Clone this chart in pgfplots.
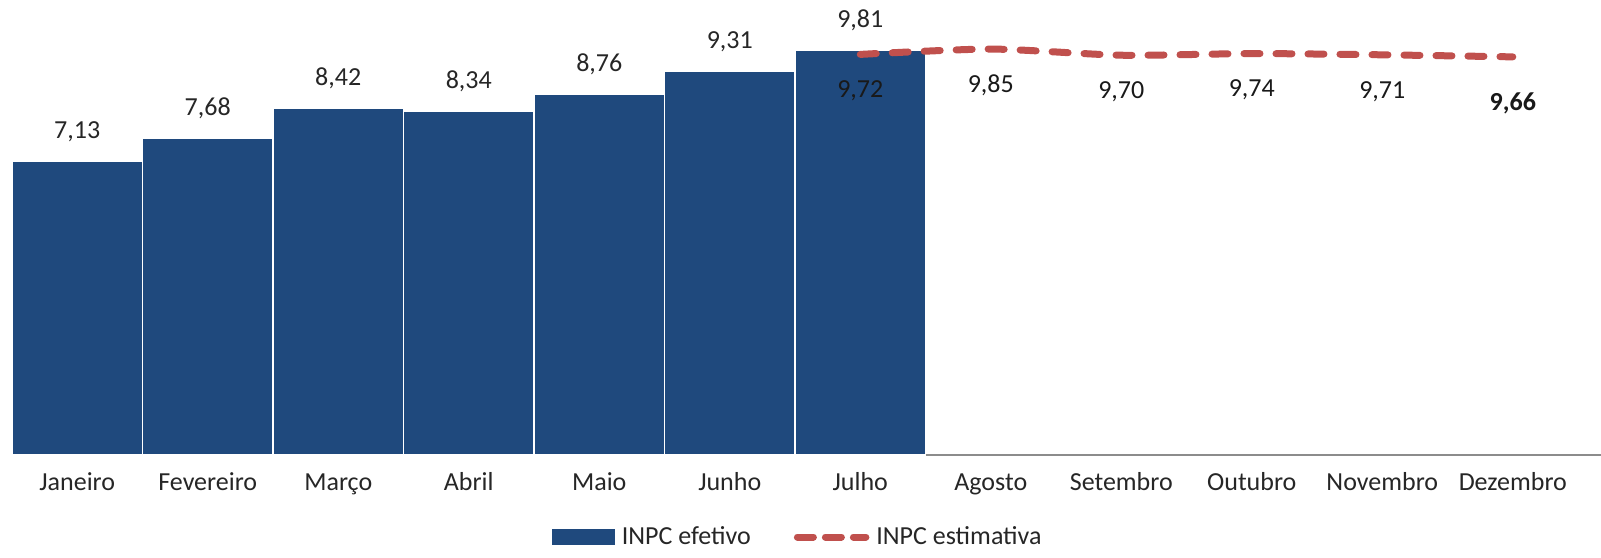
\documentclass[border=0pt]{standalone}
\usepackage{pgfplots}
\pgfplotsset{compat=1.18}
\usepackage{fontspec}
\setmainfont{Carlito}
\definecolor{inpcblue}{HTML}{1F497D}
\definecolor{inpcred}{HTML}{C0504D}
\begin{document}
\fontsize{13}{15}\selectfont
\begin{tikzpicture}[font=\fontsize{13}{15}\selectfont]
\begin{axis}[
  at={(0,0)}, anchor=south west,
  scale only axis,
  width=794.5pt, height=227.5pt,
  xmin=-0.5, xmax=11.676,
  ymin=0, ymax=11.04,
  hide y axis,
  axis x line*=bottom,
  x axis line style={draw=black!45, line width=0.8pt, -},
  xtick={0,...,11},
  xticklabels={Janeiro,Fevereiro,Março,Abril,Maio,Junho,Julho,Agosto,Setembro,Outubro,Novembro,Dezembro},
  xtick style={draw=none},
  major tick length=0pt,
  xticklabel style={anchor=base, yshift=-17.7pt, inner sep=0pt, text=black!85, font=\fontsize{13}{15}\selectfont},
  clip=false,
  legend style={at={(0.4947,0)}, anchor=center, yshift=-41pt, draw=none, fill=none,
    legend columns=2, font=\fontsize{13}{15}\selectfont, text=black!85,
    /tikz/every even column/.append style={column sep=20pt},
    /tikz/every odd column/.append style={column sep=2pt},
    nodes={inner sep=1.5pt}},
]
\addplot[ybar, bar width=1, bar shift=0pt, fill=inpcblue, draw=white, line width=0.6pt,
  nodes near coords, point meta=explicit symbolic,
  nodes near coords style={anchor=base, inner sep=0pt, yshift=11.4pt, text=black!85},
  legend image code/.code={\fill[inpcblue] (0pt,-3.5pt) rectangle (31pt,3.5pt);}]
coordinates {
(0,7.13) [7,13]
(1,7.68) [7,68]
(2,8.42) [8,42]
(3,8.34) [8,34]
(4,8.76) [8,76]
(5,9.31) [9,31]
(6,9.81) [9,81]
};
\addlegendentry{INPC efetivo}
\addplot[inpcred, line width=3.5pt, dash pattern=on 8pt off 8pt, line cap=round, smooth, tension=0.4,
  nodes near coords, point meta=explicit symbolic,
  nodes near coords style={anchor=base, inner sep=0pt, yshift=-21.6pt, text=black!90},
  legend image code/.code={\draw[inpcred, line width=3.5pt, dash pattern=on 8pt off 6pt, line cap=round] (1.75pt,0pt) -- (36pt,0pt);}]
coordinates {
(6,9.72) [9,72]
(7,9.85) [9,85]
(8,9.70) [9,70]
(9,9.74) [9,74]
(10,9.71) [9,71]
(11,9.66) [\raisebox{-5pt}{\textbf{9,66}}]
};
\addlegendentry{INPC estimativa}
\end{axis}
\pgfresetboundingbox
\path (-6pt,-51pt) rectangle (794.5pt,227.5pt);
\end{tikzpicture}
\end{document}
